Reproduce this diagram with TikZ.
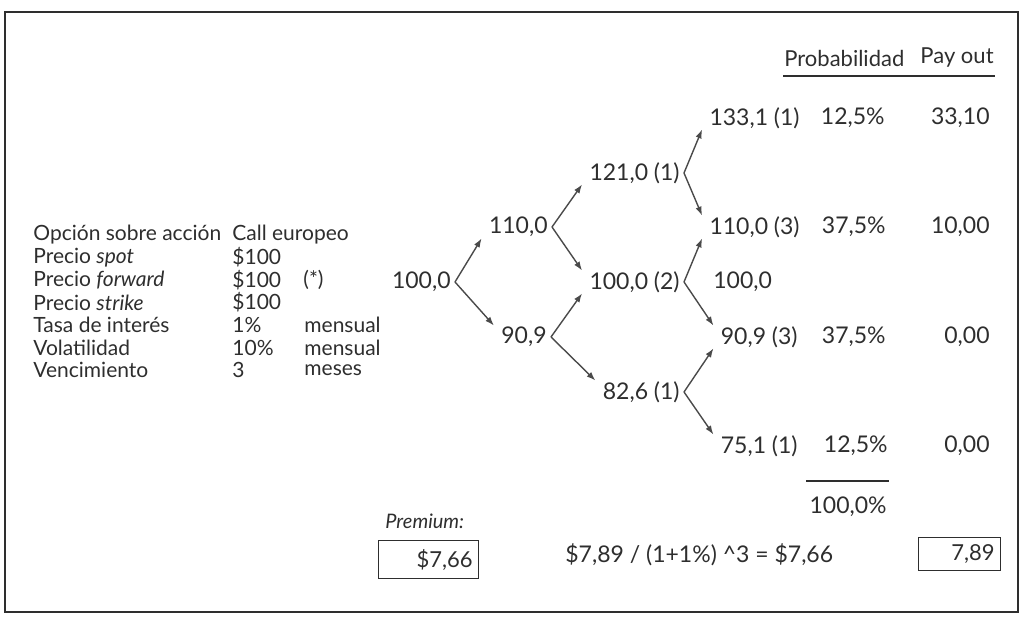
\documentclass[tikz,border=0pt]{standalone}
\usepackage{fontspec}
\setmainfont{Lato}
\usetikzlibrary{arrows.meta}
\definecolor{ink}{HTML}{2E2E2E}
\definecolor{wire}{HTML}{4A4A4A}

\begin{document}
\begin{tikzpicture}[x=0.5pt,y=-0.5pt]
    \tikzset{
      val/.style={anchor=east,inner xsep=2pt,inner ysep=0pt,minimum height=11pt,text=ink,font=\fontsize{11.5}{13}\selectfont},
      lbl/.style={anchor=west,inner sep=0pt,text=ink,font=\fontsize{10.5}{12}\selectfont},
      boxed/.style={draw=ink,line width=0.6pt,inner xsep=3pt,inner ysep=0pt,align=right,text=ink,font=\fontsize{11}{13}\selectfont},
      arr/.style={-{Latex[length=4.5pt,width=3.2pt]},draw=wire,line width=0.7pt},
      rule/.style={draw=ink,line width=1.2pt}
    }
    \useasboundingbox (0,0) rectangle (1023,619);
    \draw[draw=ink,line width=1pt] (5,12) rectangle (1018,612);
    % option data
    \node[lbl] (opc) at (33,235) {Opción sobre acción};
    \node[lbl] (spot) at (33,257.5) {Precio \textit{spot}};
    \node[lbl] (fwd) at (33,280) {Precio \textit{forward}};
    \node[lbl] (strk) at (33,302.5) {Precio \textit{strike}};
    \node[lbl] (tasa) at (33,325) {Tasa de interés};
    \node[lbl] (vol) at (33,347.5) {Volatilidad};
    \node[lbl] (venc) at (33,370) {Vencimiento};
    \node[lbl] (opcv) at (232,235) {Call europeo};
    \node[lbl] (spotv) at (232,257.5) {\$100};
    \node[lbl] (fwdv) at (232,280) {\$100};
    \node[lbl] (fwdn) at (303,280) {(*)};
    \node[lbl] (strkv) at (232,302.5) {\$100};
    \node[lbl] (tasav) at (232,325) {1\%};
    \node[lbl] (tasau) at (304,325) {mensual};
    \node[lbl] (volv) at (232,347.5) {10\%};
    \node[lbl] (volu) at (304,347.5) {mensual};
    \node[lbl] (vencv) at (232,370) {3};
    \node[lbl] (vencu) at (304,370) {meses};
    % binomial tree
    \node[val] (r0) at (455,282) {100,0};
    \node[val] (u1) at (552,227) {110,0};
    \node[val] (d1) at (551,337) {90,9};
    \node[val] (uu2) at (684,173) {121,0 (1)};
    \node[val] (ud2) at (684,282) {100,0 (2)};
    \node[val] (dd2) at (684,392) {82,6 (1)};
    \node[val] (uuu3) at (804,118) {133,1 (1)};
    \node[val] (uud3) at (804,227) {110,0 (3)};
    \node[val,anchor=west] (mid3) at (709,282) {100,0};
    \node[val] (udd3) at (802,337) {90,9 (3)};
    \node[val] (ddd3) at (802,446) {75,1 (1)};
    \draw[arr] (r0.east) -- ([xshift=-1.5pt]u1.south west);
    \draw[arr] (r0.east) -- ([xshift=-1.5pt]d1.north west);
    \draw[arr] (u1.east) -- ([xshift=-1.5pt]uu2.south west);
    \draw[arr] (u1.east) -- ([xshift=-1.5pt]ud2.north west);
    \draw[arr] (d1.east) -- ([xshift=-1.5pt]ud2.south west);
    \draw[arr] (d1.east) -- ([xshift=-1.5pt]dd2.north west);
    \draw[arr] (uu2.east) -- ([xshift=-1.5pt]uuu3.south west);
    \draw[arr] (uu2.east) -- ([xshift=-1.5pt]uud3.north west);
    \draw[arr] (ud2.east) -- ([xshift=-1.5pt]uud3.south west);
    \draw[arr] (ud2.east) -- ([xshift=-1.5pt]udd3.north west);
    \draw[arr] (dd2.east) -- ([xshift=-1.5pt]udd3.south west);
    \draw[arr] (dd2.east) -- ([xshift=-1.5pt]ddd3.north west);
    % probabilities and pay out
    \node[lbl,font=\fontsize{11}{13}\selectfont] (hprob) at (784,58) {Probabilidad};
    \node[lbl,font=\fontsize{11}{13}\selectfont,anchor=east] (hpay) at (994,58) {Pay out};
    \draw[rule] (783,76) -- (995,76);
    \node[val] (p1) at (889,118) {12,5\%};
    \node[val] (p2) at (890,227) {37,5\%};
    \node[val] (p3) at (890,337) {37,5\%};
    \node[val] (p4) at (892,446) {12,5\%};
    \node[val] (c1) at (994,118) {33,10};
    \node[val] (c2) at (994,227) {10,00};
    \node[val] (c3) at (994,337) {0,00};
    \node[val] (c4) at (994,446) {0,00};
    \draw[rule] (806,481) -- (889,481);
    \node[val] (ptot) at (891,507) {100,0\%};
    % premium
    \node[lbl,font=\fontsize{10}{12}\selectfont\itshape] (prem) at (385,521) {Premium:};
    \node[boxed,text width=44pt,minimum height=19pt,anchor=north west] (premv) at (378,540) {\$7,66};
    \node[lbl,font=\fontsize{11.5}{13}\selectfont] (calc) at (565,555) {\$7,89 / (1+1\%) \textasciicircum3 = \$7,66};
    \node[boxed,text width=35pt,minimum height=16.5pt,anchor=north west] (payv) at (918,537) {7,89};
\end{tikzpicture}
\end{document}
